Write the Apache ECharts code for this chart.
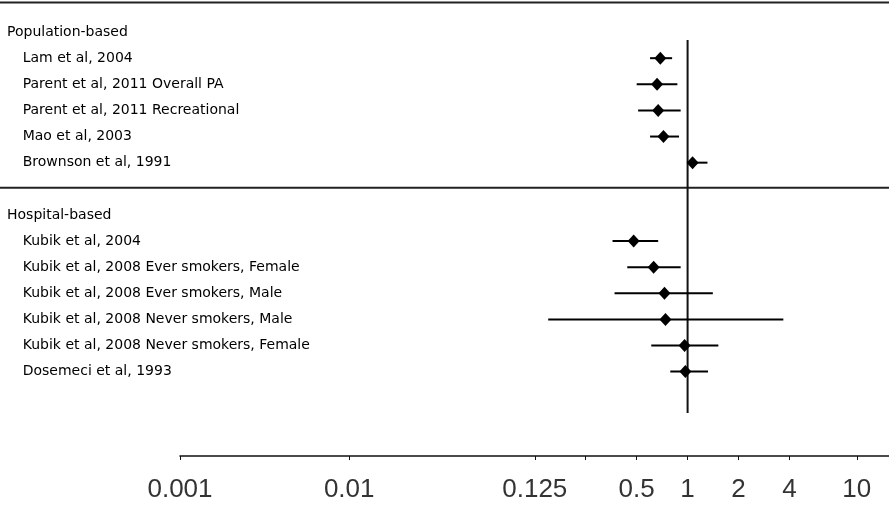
<!DOCTYPE html>
<html><head><meta charset="utf-8">
<script src="https://cdn.jsdelivr.net/npm/echarts@6/dist/echarts.min.js"></script>
<style>html,body{margin:0;padding:0;background:#fff}#c{width:889px;height:507px}</style>
</head><body><div id="c"></div>
<script>
// ---- data ----
const popHeader = 'Population-based';
const popStudies = ['Lam et al, 2004', 'Parent et al, 2011 Overall PA', 'Parent et al, 2011 Recreational', 'Mao et al, 2003', 'Brownson et al, 1991'];
const popOR = [0.69, 0.66, 0.67, 0.72, 1.07];
const popLo = [0.60, 0.50, 0.51, 0.60, 1.00];
const popHi = [0.81, 0.87, 0.91, 0.89, 1.31];

const hospHeader = 'Hospital-based';
const hospStudies = ['Kubik et al, 2004', 'Kubik et al, 2008 Ever smokers, Female', 'Kubik et al, 2008 Ever smokers, Male', 'Kubik et al, 2008 Never smokers, Male', 'Kubik et al, 2008 Never smokers, Female', 'Dosemeci et al, 1993'];
const hospOR = [0.48, 0.63, 0.73, 0.74, 0.96, 0.97];
const hospLo = [0.36, 0.44, 0.37, 0.15, 0.61, 0.79];
const hospHi = [0.67, 0.91, 1.41, 3.68, 1.52, 1.32];

const xTickValues = [0.001, 0.01, 0.125, 0.25, 0.5, 1, 2, 4, 10];
const xTickLabels = ['0.001', '0.01', '0.125', '', '0.5', '1', '2', '4', '10'];
const nullValue = 1;

// ---- build rows ----
const rows = [];
rows.push({ label: popHeader, header: true });
popStudies.forEach((s, i) => rows.push({ label: s, or: popOR[i], lo: popLo[i], hi: popHi[i] }));
rows.push({ label: '', sep: true });
rows.push({ label: hospHeader, header: true });
hospStudies.forEach((s, i) => rows.push({ label: s, or: hospOR[i], lo: hospLo[i], hi: hospHi[i] }));
rows.push({ label: '' }, { label: '' });

const sepRow = rows.findIndex(r => r.sep);
const ciData = [], ptData = [];
rows.forEach((r, i) => {
  if (r.or != null) { ciData.push([r.lo, r.hi, i]); ptData.push([r.or, i]); }
});

const chart = echarts.init(document.getElementById('c'), null, { renderer: 'canvas' });
const TOP = 19, BAND = 26.12;
const gridH = rows.length * BAND;

function tickLabel(v) {
  for (let k = 0; k < xTickValues.length; k++) {
    if (Math.abs(Math.log10(v) - Math.log10(xTickValues[k])) < 1e-6) return xTickLabels[k];
  }
  return '';
}

const option = {
  animation: false,
  backgroundColor: '#fff',
  grid: { left: 180, right: 0, top: TOP, height: gridH },
  xAxis: {
    type: 'log', logBase: 10, min: 0.001, max: 15.5,
    position: 'bottom', offset: 456 - (TOP + gridH),
    axisLine: { show: true, onZero: false, lineStyle: { color: '#111', width: 1.5 } },
    axisTick: { show: true, length: 4, lineStyle: { color: '#111', width: 1 }, customValues: xTickValues },
    axisLabel: {
      customValues: xTickValues,
      formatter: tickLabel,
      fontFamily: 'Liberation Sans', fontSize: 26, color: '#333', margin: 21
    },
    splitLine: { show: false }, minorTick: { show: false }
  },
  yAxis: [
    {
      type: 'category', inverse: true, boundaryGap: true,
      data: rows.map(r => r.label),
      position: 'left',
      axisLine: { show: false }, axisTick: { show: false }, splitLine: { show: false },
      axisLabel: {
        interval: 0, align: 'left', margin: 173,
        formatter: (v, idx) => {
          if (!v) return '';
          return rows[idx] && rows[idx].header ? '{h|' + v + '}' : '{s|' + v + '}';
        },
        rich: {
          h: { fontFamily: 'DejaVu Sans', fontSize: 14, color: '#000' },
          s: { fontFamily: 'DejaVu Sans', fontSize: 14, color: '#000', padding: [0, 0, 0, 15.7] }
        }
      }
    },
    {
      type: 'value', inverse: true, min: -0.5, max: rows.length - 0.5, show: false
    }
  ],
  series: [
    {
      type: 'line', yAxisIndex: 1, data: [[nullValue, 0.30], [nullValue, 14.58]],
      symbol: 'none', clip: false, silent: true,
      lineStyle: { color: '#111', width: 2 }, z: 2
    },
    {
      type: 'custom', yAxisIndex: 1, data: ciData, z: 3,
      renderItem: (params, api) => {
        const p1 = api.coord([api.value(0), api.value(2)]);
        const p2 = api.coord([api.value(1), api.value(2)]);
        return { type: 'line', shape: { x1: p1[0], y1: p1[1], x2: p2[0], y2: p2[1] }, style: { stroke: '#000', lineWidth: 2 } };
      },
      encode: { x: [0, 1], y: 2 }
    },
    {
      type: 'scatter', yAxisIndex: 1, data: ptData, symbol: 'diamond', symbolSize: [12, 13],
      itemStyle: { color: '#000', opacity: 1 }, z: 4
    }
  ]
};
chart.setOption(option);

const sepY = chart.convertToPixel({ yAxisIndex: 1 }, sepRow) - 1;
chart.setOption({
  graphic: [
    { type: 'line', shape: { x1: 0, y1: 2.5, x2: 889, y2: 2.5 }, style: { stroke: '#222', lineWidth: 2 } },
    { type: 'line', shape: { x1: 0, y1: sepY, x2: 889, y2: sepY }, style: { stroke: '#222', lineWidth: 2 } }
  ]
});
</script>
</body></html>
